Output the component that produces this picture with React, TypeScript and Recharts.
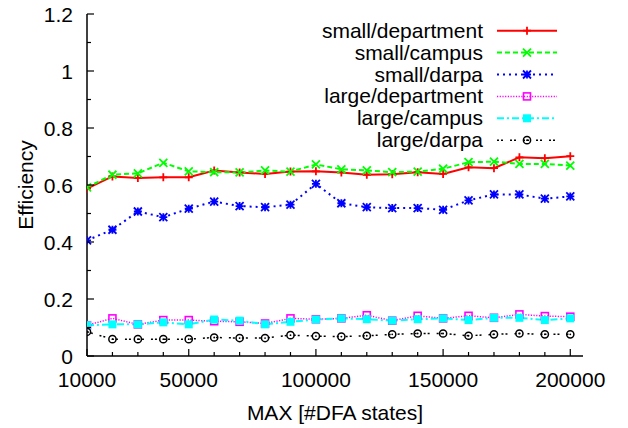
import React from 'react';
import { LineChart, Line, XAxis, YAxis, Legend, Label } from 'recharts';

const xValues = [10000, 20000, 30000, 40000, 50000, 60000, 70000, 80000, 90000, 100000,
  110000, 120000, 130000, 140000, 150000, 160000, 170000, 180000, 190000, 200000];
const xLabeledTicks = [10000, 50000, 100000, 150000, 200000];
const xTickLabels = ['10000', '50000', '100000', '150000', '200000'];
const yTicks = [0, 0.1, 0.2, 0.3, 0.4, 0.5, 0.6, 0.7, 0.8, 0.9, 1.0, 1.1, 1.2];
const yTickLabels = ['0', '', '0.2', '', '0.4', '', '0.6', '', '0.8', '', '1', '', '1.2'];

const seriesNames = ['small/department', 'small/campus', 'small/darpa', 'large/department', 'large/campus', 'large/darpa'];
const smallDepartment = [0.587, 0.630, 0.625, 0.627, 0.627, 0.651, 0.644, 0.639, 0.647, 0.648, 0.644, 0.636, 0.638, 0.645, 0.639, 0.662, 0.659, 0.697, 0.694, 0.701];
const smallCampus = [0.592, 0.636, 0.641, 0.678, 0.648, 0.645, 0.644, 0.651, 0.647, 0.672, 0.655, 0.651, 0.645, 0.647, 0.657, 0.680, 0.682, 0.674, 0.674, 0.668];
const smallDarpa = [0.406, 0.443, 0.507, 0.487, 0.517, 0.542, 0.526, 0.522, 0.531, 0.604, 0.536, 0.522, 0.519, 0.519, 0.513, 0.546, 0.567, 0.567, 0.552, 0.560];
const largeDepartment = [0.108, 0.132, 0.111, 0.126, 0.126, 0.122, 0.120, 0.114, 0.132, 0.129, 0.132, 0.143, 0.124, 0.141, 0.132, 0.141, 0.134, 0.146, 0.140, 0.138];
const largeCampus = [0.108, 0.111, 0.111, 0.118, 0.111, 0.128, 0.124, 0.111, 0.120, 0.128, 0.132, 0.129, 0.124, 0.129, 0.132, 0.126, 0.134, 0.134, 0.126, 0.132];
const largeDarpa = [0.085, 0.059, 0.059, 0.059, 0.059, 0.065, 0.063, 0.063, 0.073, 0.070, 0.068, 0.071, 0.076, 0.079, 0.079, 0.071, 0.076, 0.079, 0.076, 0.076];

const data = xValues.map((x, i) => ({
  x,
  sd: smallDepartment[i],
  sc: smallCampus[i],
  sp: smallDarpa[i],
  ld: largeDepartment[i],
  lc: largeCampus[i],
  lp: largeDarpa[i],
}));

const FONT = '"Liberation Sans", Arial, Helvetica, sans-serif';
const FS = 21;

type MarkerType = 'plus' | 'cross' | 'star' | 'square' | 'fsquare' | 'circle';

const series: { key: string; name: string; color: string; dash?: string; width: number; marker: MarkerType }[] = [
  { key: 'sd', name: seriesNames[0], color: '#ff0000', width: 2, marker: 'plus' },
  { key: 'sc', name: seriesNames[1], color: '#00ff00', dash: '5 3', width: 2, marker: 'cross' },
  { key: 'sp', name: seriesNames[2], color: '#0000ff', dash: '2 4', width: 2, marker: 'star' },
  { key: 'ld', name: seriesNames[3], color: '#ff00ff', dash: '1.2 1.5', width: 1.5, marker: 'square' },
  { key: 'lc', name: seriesNames[4], color: '#00ffff', dash: '7 3 2 3', width: 2, marker: 'fsquare' },
  { key: 'lp', name: seriesNames[5], color: '#000000', dash: '2 2 2 7', width: 1.5, marker: 'circle' },
];

function Marker({ type, cx, cy, color }: { type: MarkerType; cx: number; cy: number; color: string }) {
  const s = 4;
  if (cx == null || cy == null || isNaN(cx) || isNaN(cy)) return <g />;
  switch (type) {
    case 'plus':
      return <path d={`M${cx - s},${cy}H${cx + s}M${cx},${cy - s}V${cy + s}`} stroke={color} strokeWidth={1.8} fill="none" />;
    case 'cross':
      return <path d={`M${cx - s},${cy - s}L${cx + s},${cy + s}M${cx - s},${cy + s}L${cx + s},${cy - s}`} stroke={color} strokeWidth={1.8} fill="none" />;
    case 'star':
      return <path d={`M${cx - s},${cy}H${cx + s}M${cx},${cy - s}V${cy + s}M${cx - s},${cy - s}L${cx + s},${cy + s}M${cx - s},${cy + s}L${cx + s},${cy - s}`} stroke={color} strokeWidth={1.8} fill="none" />;
    case 'square':
      return <rect x={cx - 3.5} y={cy - 3.5} width={7} height={7} stroke={color} strokeWidth={1.6} fill="none" />;
    case 'fsquare':
      return <rect x={cx - 4} y={cy - 4} width={8} height={8} fill={color} stroke="none" />;
    case 'circle':
      return (
        <g>
          <circle cx={cx} cy={cy} r={3.6} stroke={color} strokeWidth={1.5} fill="none" />
          <circle cx={cx} cy={cy} r={0.9} fill={color} />
        </g>
      );
  }
  return <g />;
}

const XTick = (props: any) => {
  const { x, y, payload } = props;
  const idx = xLabeledTicks.indexOf(payload.value);
  const len = idx >= 0 ? 7 : 4;
  return (
    <g>
      <line x1={x} x2={x} y1={y} y2={y - len} stroke="#000" strokeWidth={1.2} />
      {idx >= 0 && (
        <text x={x} y={y + 31} textAnchor="middle" fontFamily={FONT} fontSize={FS} fill="#000">
          {xTickLabels[idx]}
        </text>
      )}
    </g>
  );
};

const YTick = (props: any) => {
  const { x, y, index } = props;
  const label = yTickLabels[index];
  const len = label ? 7 : 4;
  return (
    <g>
      <line x1={x} x2={x + len} y1={y} y2={y} stroke="#000" strokeWidth={1.2} />
      {label && (
        <text x={x - 14} y={y + 8} textAnchor="end" fontFamily={FONT} fontSize={FS} fill="#000">
          {label}
        </text>
      )}
    </g>
  );
};

const LegendBox = () => {
  const rowH = 21.9;
  return (
    <svg width={300} height={140} style={{ overflow: 'visible' }}>
      {series.map((s, i) => {
        const y = 15.7 + rowH * i;
        return (
          <g key={s.key}>
            <text x={203} y={y + 7} textAnchor="end" fontFamily={FONT} fontSize={FS} fill="#000">
              {s.name}
            </text>
            <line x1={217} x2={277} y1={y} y2={y} stroke={s.color} strokeWidth={s.width} strokeDasharray={s.dash} />
            <Marker type={s.marker} cx={247} cy={y} color={s.color} />
          </g>
        );
      })}
    </svg>
  );
};

export default function App() {
  return (
    <div style={{ position: 'absolute', left: 0, top: 0, width: 628, height: 428, background: '#fff' }}>
      <LineChart width={628} height={428} data={data} margin={{ top: 14, right: 45, bottom: 0, left: 0 }}>
        <XAxis
          dataKey="x"
          type="number"
          domain={[10000, 205000]}
          ticks={xValues}
          interval={0}
          allowDataOverflow
          height={72}
          tickSize={0}
          tickMargin={0}
          tickLine={false}
          tick={<XTick />}
          axisLine={{ stroke: '#000', strokeWidth: 1.5 }}
        >
          <Label
            content={(p: any) => {
              const vb = p.viewBox || { x: 87, y: 356, width: 496, height: 72 };
              return (
                <text x={vb.x + vb.width / 2} y={vb.y + 64} textAnchor="middle" fontFamily={FONT} fontSize={FS} fill="#000">
                  MAX [#DFA states]
                </text>
              );
            }}
          />
        </XAxis>
        <XAxis
          xAxisId="top"
          orientation="top"
          dataKey="x"
          type="number"
          domain={[10000, 205000]}
          height={0}
          tick={false}
          tickLine={false}
          axisLine={{ stroke: '#000', strokeWidth: 1.5 }}
        />
        <YAxis
          type="number"
          domain={[0, 1.2]}
          ticks={yTicks}
          interval={0}
          allowDataOverflow
          width={87}
          tickSize={0}
          tickMargin={0}
          tickLine={false}
          tick={<YTick />}
          axisLine={{ stroke: '#000', strokeWidth: 1.5 }}
        >
          <Label
            content={(p: any) => {
              const vb = p.viewBox || { x: 0, y: 14, width: 87, height: 342 };
              const cx = 33;
              const cy = vb.y + vb.height / 2;
              return (
                <text x={cx} y={cy} transform={`rotate(-90, ${cx}, ${cy})`} textAnchor="middle" fontFamily={FONT} fontSize={FS} fill="#000">
                  Efficiency
                </text>
              );
            }}
          />
        </YAxis>
        <YAxis
          yAxisId="right"
          orientation="right"
          type="number"
          domain={[0, 1.2]}
          width={0}
          tick={false}
          tickLine={false}
          axisLine={{ stroke: '#000', strokeWidth: 1.5 }}
        />
        <Legend
          layout="vertical"
          align="center"
          verticalAlign="middle"
          wrapperStyle={{ position: 'absolute', left: 280, top: 15, width: 300, height: 140 }}
          content={() => <LegendBox />}
        />
        {series.map((s) => (
          <Line
            key={s.key}
            dataKey={s.key}
            name={s.name}
            type="linear"
            stroke={s.color}
            strokeWidth={s.width}
            strokeDasharray={s.dash}
            isAnimationActive={false}
            activeDot={false}
            dot={(p: any) => <Marker key={`${s.key}-${p.index}`} type={s.marker} cx={p.cx} cy={p.cy} color={s.color} />}
          />
        ))}
      </LineChart>
    </div>
  );
}
